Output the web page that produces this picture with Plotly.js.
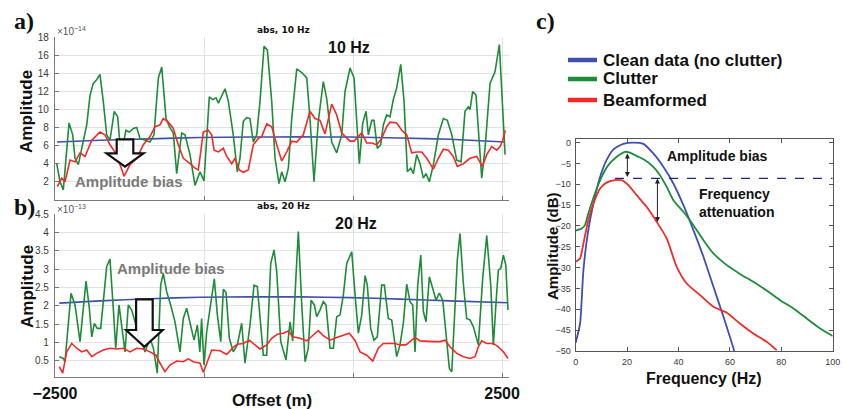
<!DOCTYPE html>
<html><head><meta charset="utf-8">
<script src="https://cdn.plot.ly/plotly-3.0.1.min.js"></script>
<style>html,body{margin:0;padding:0;background:#fff}#chart{width:845px;height:409px}</style>
</head><body><div id="chart"></div>
<script>
// ---------- Panel a: 10 Hz (amplitude x1e-14) ----------
const greenA_x = [-2481,-2444,-2407,-2343,-2302,-2276,-2239,-2183,-2145,-2108,-2072,-2034,-1997,-1960,-1922,-1885,-1837,-1799,-1773,-1743,-1706,-1669,-1624,-1586,-1549,-1493,-1437,-1393,-1362,-1344,-1306,-1258,-1221,-1177,-1139,-1083,-1046,-990,-934,-878,-833,-774,-736,-699,-673,-598,-561,-506,-461,-431,-394,-356,-319,-282,-244,-207,-162,-125,-76,-39,6,36,73,110,148,204,260,316,352,397,445,501,539,595,651,707,744,800,845,875,904,942,979,1005,1043,1068,1105,1143,1172,1210,1247,1284,1322,1367,1404,1441,1479,1508,1546,1583,1620,1650,1687,1732,1788,1844,1888,1938,1993,2042,2086,2123,2142,2172,2209,2273,2310,2366,2422,2470,2515,2534];
const greenA_y = [4.0,2.0,1.1,8.5,7.2,4.6,3.9,6.4,8.3,11.6,12.9,13.3,13.9,10.9,7.2,6.6,9.8,9.2,6.1,5.9,7.7,7.5,7.9,8.0,6.8,6.6,6.4,7.2,10.9,13.5,14.7,9.0,8.1,7.4,2.9,7.4,7.2,5.0,1.6,3.1,2.1,11.4,11.1,11.3,10.7,12.3,10.9,7.2,3.1,4.6,8.7,9.1,9.0,6.4,7.2,10.9,17.0,16.6,10.9,4.6,1.8,3.1,2.0,3.5,9.0,14.5,14.1,13.5,9.0,2.0,8.7,13.1,11.2,6.4,5.2,7.2,12.0,14.6,13.5,9.0,4.0,8.5,9.8,7.2,8.8,8.8,5.7,6.1,8.3,9.4,9.2,11.1,12.4,15.0,10.9,3.1,3.5,2.9,5.0,4.0,2.4,2.9,2.0,3.9,7.2,9.0,8.8,7.2,4.4,4.2,9.8,10.3,10.0,12.0,11.6,2.4,5.7,12.9,14.2,17.2,8.3,5.0];
const redA_x = [-2474,-2425,-2388,-2332,-2276,-2220,-2164,-2089,-1997,-1941,-1885,-1810,-1728,-1661,-1586,-1512,-1437,-1381,-1325,-1289,-1233,-1177,-1121,-1065,-990,-934,-897,-841,-785,-747,-721,-673,-617,-579,-523,-487,-438,-394,-338,-282,-226,-188,-132,-76,-20,36,92,148,204,277,352,408,464,520,595,651,707,800,845,893,931,987,1043,1099,1154,1210,1247,1322,1378,1434,1490,1546,1602,1658,1732,1788,1844,1900,1955,2000,2067,2142,2217,2280,2329,2385,2441,2478,2508,2537];
const redA_y = [1.45,2.4,2.0,4.4,4.2,5.2,4.8,6.6,7.5,7.2,6.1,5.0,2.6,3.9,4.6,6.1,7.0,8.1,8.3,9.0,8.6,7.9,6.1,4.6,4.0,3.5,3.3,7.5,7.7,7.2,5.5,5.3,5.7,4.8,4.0,4.6,3.3,3.05,3.3,6.1,6.8,7.0,8.4,8.1,6.1,4.3,5.3,6.5,6.4,7.2,9.8,9.0,8.8,7.3,10.6,9.4,7.4,6.5,6.5,7.0,7.4,6.3,6.3,6.1,6.8,8.1,8.6,8.5,7.7,7.2,5.2,5.3,5.3,4.6,3.4,4.6,5.6,5.5,4.8,3.7,4.0,4.6,4.8,3.7,5.0,5.9,5.5,5.9,6.6,7.7];
const blueA_x = [-2478,-1997,-1437,-878,-319,241,800,1359,1918,2534];
const blueA_y = [6.4,6.6,6.75,6.9,6.95,6.97,6.95,6.85,6.7,6.4];

// ---------- Panel b: 20 Hz (amplitude x1e-13) ----------
const greenB_x = [-2452,-2407,-2388,-2321,-2276,-2220,-2153,-2116,-2089,-2060,-2027,-1989,-1922,-1885,-1848,-1821,-1784,-1754,-1717,-1680,-1642,-1605,-1568,-1530,-1493,-1437,-1400,-1356,-1318,-1289,-1251,-1206,-1158,-1102,-1065,-1027,-990,-945,-908,-880,-860,-833,-803,-758,-718,-684,-646,-617,-587,-550,-506,-461,-412,-375,-319,-274,-237,-199,-170,-132,-87,-50,-20,25,84,129,159,196,222,260,297,333,364,401,427,464,501,531,576,613,651,688,725,763,819,856,893,931,968,993,1031,1068,1105,1154,1184,1228,1266,1322,1359,1396,1434,1471,1501,1527,1557,1591,1620,1650,1687,1725,1762,1799,1837,1882,1911,1938,1974,2000,2030,2067,2105,2142,2179,2235,2284,2329,2374,2403,2441,2459,2486,2515,2542,2567];
const greenB_y = [0.61,0.56,0.47,2.34,2.02,1.02,2.67,1.93,1.15,1.52,1.38,1.38,3.06,3.27,1.93,0.84,2.02,1.47,0.74,2.02,1.88,1.56,1.15,1.02,0.74,1.11,0.84,0.16,2.56,2.88,2.38,2.02,1.56,0.74,1.65,1.93,1.56,1.06,1.47,0.74,1.65,0.38,1.29,2.02,2.73,1.75,1.02,2.45,2.36,1.11,0.74,0.93,1.52,0.43,1.47,2.56,2.52,1.47,0.65,0.65,3.15,3.52,2.93,1.02,0.52,1.56,1.04,2.84,4.02,2.02,0.47,0.84,2.15,2.02,1.7,1.88,2.11,2.02,0.84,0.84,1.7,1.75,2.29,3.15,3.47,2.3,1.25,1.75,2.82,2.56,1.38,1.06,1.15,2.56,2.56,1.65,1.61,0.61,0.93,1.52,2.59,2.11,2.02,0.74,2.56,3.38,1.84,1.56,2.79,2.47,2.15,2.34,2.15,1.02,0.29,0.2,2.11,3.25,3.97,2.61,1.65,1.61,1.43,0.93,2.75,3.91,2.56,0.93,2.38,2.97,3.02,3.38,3.11,1.88];
const redB_x = [-2452,-2414,-2369,-2313,-2257,-2201,-2145,-2089,-2034,-1960,-1885,-1810,-1736,-1661,-1586,-1512,-1437,-1370,-1325,-1270,-1214,-1139,-1065,-1009,-953,-878,-841,-747,-654,-579,-512,-461,-394,-327,-274,-207,-132,-76,-13,54,110,159,241,316,389,445,501,576,651,725,792,856,912,987,1054,1116,1172,1228,1303,1359,1426,1471,1527,1583,1658,1732,1807,1863,1918,1993,2067,2142,2198,2235,2273,2329,2403,2459,2515,2567];
const redB_y = [0.34,0.16,0.74,0.97,0.84,0.74,0.79,0.61,0.70,0.79,0.84,0.82,0.84,0.74,0.84,0.82,0.74,0.65,0.43,0.2,0.38,0.49,0.47,0.55,0.47,0.43,0.18,0.79,0.77,0.67,0.85,0.95,0.97,1.06,0.95,0.82,0.93,1.11,1.22,1.25,1.31,1.15,1.11,1.04,1.2,1.32,1.18,1.06,1.13,1.2,1.25,1.05,0.74,0.65,0.49,0.84,0.97,0.97,0.97,0.93,0.93,1.02,1.13,1.04,1.02,1.02,1.02,1.06,0.88,0.70,0.61,0.56,0.61,0.88,1.04,0.97,0.97,0.88,0.74,0.56];
const blueB_x = [-2452,-1997,-1437,-878,-319,241,800,1359,1918,2567];
const blueB_y = [2.07,2.13,2.19,2.23,2.24,2.24,2.22,2.18,2.13,2.08];

// ---------- Panel c: spectra (dB) ----------
const blueC_f = [0,1.7,3,4.9,6.9,9.5,12,14.7,18.5,22.4,26.3,30.2,34.1,38,41.9,45.8,49.7,53.6,57.5,60,61.7];
const blueC_db = [-48,-43.4,-30.6,-21,-14.6,-8.2,-4.2,-1.6,-0.3,0,-0.3,-2.6,-5.8,-9.8,-15,-21,-27.4,-34.6,-41.8,-46.6,-50];
const greenC_f = [0,2.3,3.6,4.9,7.5,10.1,12.7,16,19.2,21.1,23.7,27,30.2,32.8,35.4,38,41.9,45.8,49.7,53.6,58.8,63.9,69.1,74.3,79.5,84.7,89.9,95.1,100];
const greenC_db = [-21.1,-20.6,-19.8,-17,-12.2,-8.2,-5.4,-3.4,-2.2,-2.4,-3.2,-4.2,-5.8,-7.8,-10.6,-13.8,-16.6,-19.8,-23.4,-26.6,-29.4,-31.5,-33.4,-35.5,-37.8,-39.8,-42.2,-44.6,-46.4];
const redC_f = [0,1.7,3,4.9,6.9,9.5,12,15.3,17.9,20.5,23.7,27.6,31.5,35.4,39.3,43.2,48.4,53.6,58.8,63.9,69.1,74.3,78.2];
const redC_db = [-28.6,-27.8,-24.2,-18.6,-14.6,-11,-9.6,-9,-9,-10.2,-12.6,-15.4,-19,-23,-29.8,-33.8,-36.6,-39.4,-40.8,-43.4,-45.8,-47.8,-49.8];

const legendNames = ['Clean data (no clutter)','Clutter','Beamformed'];
const offsetTicks = [-2500,-833.33,833.33,2500];
const offsetTickText = ['\u22122500','','','2500'];
const biasLevel = -8.6;

const BLUE='#3f4fb0', GREEN='#1e8c38', RED='#f22a2a';
const W=845,H=409;
const PX=x=>x/W, PY=y=>1-y/H;

function tr(x,y,c,xa,ya,w,shape){return {x:x,y:y,type:'scatter',mode:'lines',line:{color:c,width:w||1.6,shape:shape||'linear',smoothing:0.6},xaxis:xa,yaxis:ya,showlegend:false,hoverinfo:'skip'};}
const data=[
 tr(blueA_x,blueA_y,BLUE,'x','y',1.6,'spline'),
 tr(greenA_x,greenA_y,GREEN,'x','y'),
 tr(redA_x,redA_y,RED,'x','y'),
 tr(blueB_x,blueB_y,BLUE,'x2','y2',1.6,'spline'),
 tr(greenB_x,greenB_y,GREEN,'x2','y2'),
 tr(redB_x,redB_y,RED,'x2','y2'),
 tr(blueC_f,blueC_db,BLUE,'x3','y3',1.8,'spline'),
 tr(greenC_f,greenC_db,GREEN,'x3','y3',1.8,'spline'),
 tr(redC_f,redC_db,RED,'x3','y3',1.8,'spline')
];

const tickFont={family:'Liberation Sans, Arial, sans-serif',size:10,color:'#3a3a3a'};
const xRange=[-2500,2578];
function offAxis(dom,anchor,labels){return {domain:dom,anchor:anchor,range:xRange,tickvals:offsetTicks,ticktext:offsetTickText,showticklabels:labels,
  tickfont:{family:'Liberation Sans, Arial, sans-serif',size:16,color:'#111',weight:'bold'},ticks:'inside',ticklen:4,tickcolor:'#777',
  showgrid:true,gridcolor:'#e2e2e2',showline:true,linecolor:'#7a7a7a',linewidth:1.2,mirror:false,zeroline:false,ticklabelstandoff:2};}
function ampAxis(dom,anchor,rng,vals,txt){return {domain:dom,anchor:anchor,range:rng,tickvals:vals,ticktext:txt,tickfont:tickFont,ticks:'inside',ticklen:4,tickcolor:'#777',
  showgrid:true,gridcolor:'#e2e2e2',showline:true,linecolor:'#7a7a7a',linewidth:1.2,zeroline:false,ticklabelstandoff:3};}

const ticksA=[2,4,6,8,10,12,14,16,18];
const ticksB=[0.5,1,1.5,2,2.5,3,3.5,4,4.5];

const layout={
 width:W,height:H,margin:{l:0,r:0,t:0,b:0},paper_bgcolor:'#fff',plot_bgcolor:'#fff',
 font:{family:'Liberation Sans, Arial, sans-serif'},
 xaxis:offAxis([PX(55),PX(509)],'y',false),
 yaxis:ampAxis([PY(199.8),PY(37.3)],'x',[0,18],ticksA,ticksA.map(String)),
 xaxis2:offAxis([PX(55),PX(509)],'y2',true),
 yaxis2:ampAxis([PY(377),PY(214)],'x2',[0.055,4.5],ticksB,ticksB.map(String)),
 xaxis3:{domain:[PX(575.7),PX(832.7)],anchor:'y3',range:[0,100],dtick:20,tickfont:{family:'Liberation Sans, Arial, sans-serif',size:9,color:'#3a3a3a'},
   ticks:'inside',ticklen:4,tickcolor:'#555',showgrid:false,showline:true,linecolor:'#555',linewidth:1,mirror:'ticks',zeroline:false,ticklabelstandoff:2},
 yaxis3:{domain:[PY(351),PY(139.3)],anchor:'x3',range:[-50,0.8],dtick:5,tickfont:{family:'Liberation Sans, Arial, sans-serif',size:9,color:'#3a3a3a'},
   ticks:'inside',ticklen:4,tickcolor:'#555',showgrid:false,showline:true,linecolor:'#555',linewidth:1,mirror:'ticks',zeroline:false,ticklabelstandoff:2},
 shapes:[],annotations:[]
};

// hollow down arrows (panel a, panel b)
function hollowArrow(cx,top,base,stemHalf,headHalf,tip){
  const p=[[cx-stemHalf,top],[cx+stemHalf,top],[cx+stemHalf,base],[cx+headHalf,base],[cx,tip],[cx-headHalf,base],[cx-stemHalf,base]];
  return {type:'path',xref:'paper',yref:'paper',path:'M'+p.map(q=>PX(q[0]).toFixed(5)+','+PY(q[1]).toFixed(5)).join(' L')+' Z',
    line:{color:'#111',width:2.2},fillcolor:'rgba(255,255,255,0.9)',layer:'above'};
}
layout.shapes.push(hollowArrow(125,139.3,153.3,8.3,18.5,166.7));
layout.shapes.push(hollowArrow(144.4,299.3,330,8.3,18.3,346.7));
// dashed reference level in c
layout.shapes.push({type:'line',xref:'x3',yref:'y3',x0:15.3,x1:100,y0:biasLevel,y1:biasLevel,line:{color:'#1c2a80',width:1.2,dash:'dash'}});
// legend lines
const legY=[60,79,100], legC=[BLUE,GREEN,RED];
legY.forEach((y,i)=>layout.shapes.push({type:'line',xref:'paper',yref:'paper',x0:PX(568),x1:PX(597),y0:PY(y),y1:PY(y),line:{color:legC[i],width:4.5}}));

function ann(o){layout.annotations.push(Object.assign({xref:'paper',yref:'paper',showarrow:false,xanchor:'center',yanchor:'middle'},o));}
// legend text
legendNames.forEach((t,i)=>ann({x:PX(601),y:PY(legY[i]),xanchor:'left',text:'<b>'+t+'</b>',
  font:{family:'Liberation Sans, Arial, sans-serif',size:17,color:'#111'}}));
// panel letters
const serif={family:'Liberation Serif, Times New Roman, serif',size:24,color:'#111'};
ann({x:PX(12),y:PY(21),xanchor:'left',text:'<b>a)</b>',font:serif});
ann({x:PX(12),y:PY(207),xanchor:'left',text:'<b>b)</b>',font:serif});
ann({x:PX(534),y:PY(21),xanchor:'left',text:'<b>c)</b>',font:serif});
// small titles & exponents
const dj={family:'DejaVu Sans, sans-serif',size:9,color:'#111'};
ann({x:PX(283),y:PY(30),text:'<b>abs, 10 Hz</b>',font:dj});
ann({x:PX(283),y:PY(206),text:'<b>abs, 20 Hz</b>',font:dj});
ann({x:PX(55),y:PY(31),xanchor:'left',text:'\u00d710<sup>\u221214</sup>',font:{family:'Liberation Sans, Arial, sans-serif',size:10,color:'#555'}});
ann({x:PX(55),y:PY(209),xanchor:'left',text:'\u00d710<sup>\u221213</sup>',font:{family:'Liberation Sans, Arial, sans-serif',size:10,color:'#555'}});
// big frequency labels
const bigB={family:'Liberation Sans, Arial, sans-serif',size:16,color:'#111'};
ann({x:PX(349),y:PY(47),text:'<b>10 Hz</b>',font:bigB});
ann({x:PX(356),y:PY(223),text:'<b>20 Hz</b>',font:bigB});
// amplitude bias labels in a, b
const grayB={family:'Liberation Sans, Arial, sans-serif',size:15,color:'#7a7a7a'};
ann({x:PX(129),y:PY(182),text:'<b>Amplitude bias</b>',font:grayB});
ann({x:PX(170.5),y:PY(268),text:'<b>Amplitude bias</b>',font:grayB});
// axis titles a, b
const axB={family:'Liberation Sans, Arial, sans-serif',size:17,color:'#111'};
ann({x:PX(27),y:PY(112),text:'<b>Amplitude</b>',textangle:-90,font:axB});
ann({x:PX(27),y:PY(287),text:'<b>Amplitude</b>',textangle:-90,font:axB});
ann({x:PX(272),y:PY(400),text:'<b>Offset (m)</b>',font:{family:'Liberation Sans, Arial, sans-serif',size:17,color:'#111'}});
// axis titles c
ann({x:PX(704),y:PY(378),text:'<b>Frequency (Hz)</b>',font:{family:'Liberation Sans, Arial, sans-serif',size:16,color:'#111'}});
ann({x:PX(553),y:PY(247),text:'<b>Amplitude (dB)</b>',textangle:-90,font:{family:'Liberation Sans, Arial, sans-serif',size:15,color:'#111'}});
// c annotations
const annC={family:'Liberation Sans, Arial, sans-serif',size:14,color:'#111'};
ann({x:PX(665),y:PY(156),xanchor:'left',text:'<b>Amplitude bias</b>',font:annC});
ann({x:PX(697),y:PY(203),xanchor:'left',align:'left',text:'<b>Frequency<br>attenuation</b>',font:annC});
// double-headed arrows in c
function dbl(x,y0,y1){layout.annotations.push({xref:'x3',yref:'y3',axref:'x3',ayref:'y3',x:x,y:y0,ax:x,ay:y1,text:'',showarrow:true,
  arrowhead:2,startarrowhead:2,arrowside:'end+start',arrowsize:1,arrowwidth:1,arrowcolor:'#222'});}
dbl(20.1,-2.6,biasLevel);
dbl(31.8,biasLevel,-19.4);

Plotly.newPlot('chart',data,layout,{displayModeBar:false,staticPlot:true});
</script></body></html>
